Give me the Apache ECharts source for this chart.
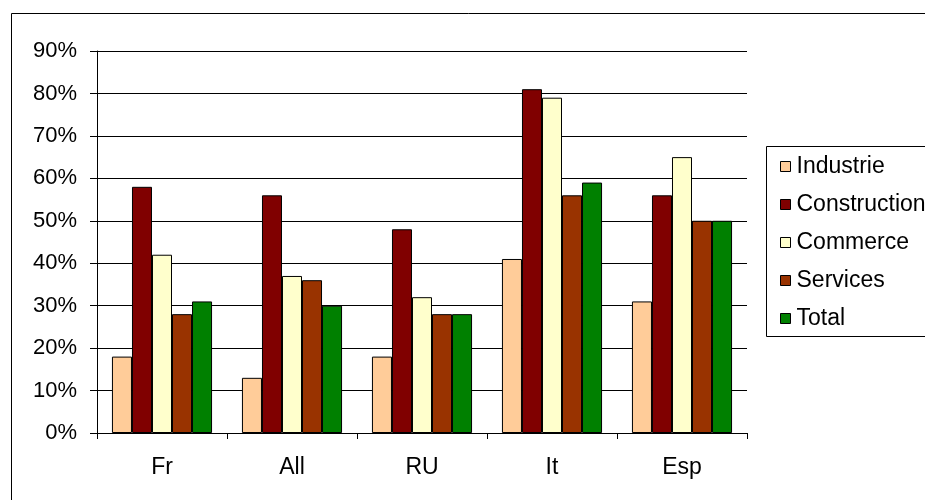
<!DOCTYPE html>
<html><head><meta charset="utf-8">
<script src="https://cdn.jsdelivr.net/npm/echarts@6/dist/echarts.min.js"></script>
<style>html,body{margin:0;padding:0;background:#fff}#c{width:925px;height:500px}</style>
</head><body><div id="c"></div>
<script>
const categories = ['Fr', 'All', 'RU', 'It', 'Esp'];
const industrie = [18, 13, 18, 41, 31];
const construction = [58, 56, 48, 81, 56];
const commerce = [42, 37, 32, 79, 65];
const services = [28, 36, 28, 56, 50];
const total = [31, 30, 28, 59, 50];
const seriesNames = ['Industrie', 'Construction', 'Commerce', 'Services', 'Total'];
const seriesColors = ['#FFCC99', '#800000', '#FFFFCC', '#993300', '#008000'];
const seriesData = [industrie, construction, commerce, services, total];

const font = 'Liberation Sans, Arial, sans-serif';
const chart = echarts.init(document.getElementById('c'), null, {renderer: 'canvas'});
chart.setOption({
  animation: false,
  backgroundColor: '#fff',
  graphic: [
    {type: 'rect', shape: {x: 11.5, y: 13.5, width: 1000, height: 1000}, style: {fill: 'none', stroke: '#000', lineWidth: 1}, z: 0},
    {type: 'rect', shape: {x: 766.5, y: 146.5, width: 300, height: 190}, style: {fill: '#fff', stroke: '#000', lineWidth: 1}, z: 0}
  ],
  grid: {left: 97, right: 178, top: 51, bottom: 67, containLabel: false},
  legend: {
    orient: 'vertical', left: 775, top: 150,
    itemWidth: 10, itemHeight: 10, itemGap: 15,
    icon: 'rect',
    itemStyle: {borderColor: '#000', borderWidth: 1},
    textStyle: {fontFamily: font, fontSize: 23, lineHeight: 23, color: '#000', padding: [0, 0, 0, 1]},
    data: seriesNames
  },
  xAxis: {
    type: 'category', data: categories,
    axisLine: {lineStyle: {color: '#000', width: 1}},
    axisTick: {show: true, length: 6, lineStyle: {color: '#000'}},
    axisLabel: {color: '#000', fontFamily: font, fontSize: 23, margin: 23}
  },
  yAxis: {
    type: 'value', min: 0, max: 90, interval: 10,
    axisLine: {show: true, lineStyle: {color: '#000', width: 1}},
    axisTick: {show: true, inside: false, length: 7, lineStyle: {color: '#000'}},
    splitLine: {show: true, lineStyle: {color: '#000', width: 1}},
    axisLabel: {color: '#000', fontFamily: font, fontSize: 22, margin: 20, formatter: '{value}%'}
  },
  series: seriesNames.map((n, i) => ({
    name: n, type: 'bar', data: seriesData[i],
    barGap: '0%', barCategoryGap: '23%',
    itemStyle: {color: seriesColors[i], borderColor: '#000', borderWidth: 1}
  }))
});
</script></body></html>
